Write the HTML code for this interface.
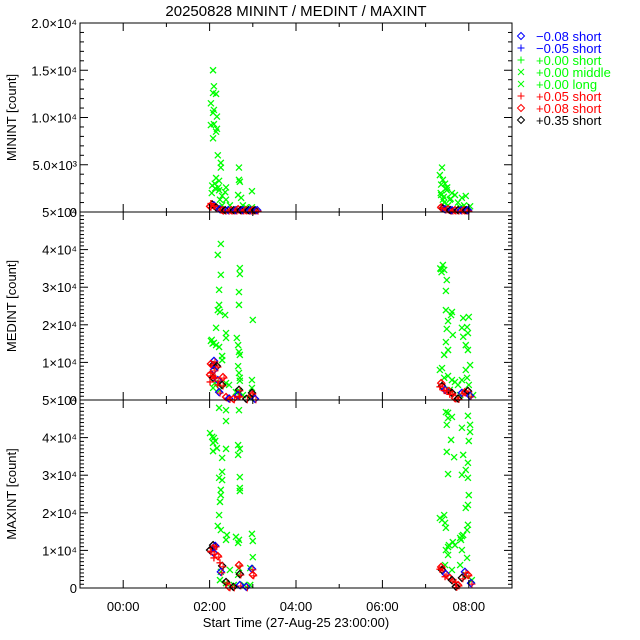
<!DOCTYPE html>
<html><head><meta charset="utf-8"><style>
body{margin:0;background:#fff}
svg{display:block;font-family:"Liberation Sans",sans-serif}
</style></head><body>
<svg id="c" width="640" height="640" viewBox="0 0 640 640"></svg>
<script>
// ---- data (hours since 00:00, counts in thousands) ----
const xTickLabels = ["00:00","02:00","04:00","06:00","08:00"];
const xTickHours = [0,2,4,6,8];
const p1TickLabels = ["0","5.0×10³","1.0×10⁴","1.5×10⁴","2.0×10⁴"];
const p1TickValues = [0,5,10,15,20];
const p23TickLabels = ["0","1×10⁴","2×10⁴","3×10⁴","4×10⁴","5×10⁴"];
const p23TickValues = [0,10,20,30,40,50];
const legendLabels = ["−0.08 short","−0.05 short","+0.00 short","+0.00 middle","+0.00 long","+0.05 short","+0.08 short","+0.35 short"];
const legendColors = ["#0000ff","#0000ff","#00ff00","#00ff00","#00ff00","#ff0000","#ff0000","#000000"];
const legendSymbols = ["d","p","p","x","x","p","d","d"];

const minGreenT = [2.08,2.10,2.08,2.15,2.03,2.10,2.08,2.17,2.03,2.10,2.17,2.15,2.08,2.19,2.26,2.26,2.15,2.22,2.06,2.13,2.38,2.22,2.36,2.29,2.38,2.24,2.68,2.68,2.70,2.66,2.73,2.98,2.98,2.29,2.47,2.77,2.84,7.33,7.38,7.40,7.36,7.45,7.49,7.61,7.68,7.56,7.43,7.84,7.93,7.75,7.52,7.89,8.03,7.80,7.36,7.40,7.47,2.05,2.12,2.20,7.35,7.42,7.50,7.58];
const minGreenV = [15.0,13.3,12.6,12.5,11.5,10.8,10.5,10.1,9.2,9.3,8.8,8.5,7.8,6.0,5.2,4.7,3.6,3.3,2.8,2.5,2.6,2.3,2.1,1.7,1.3,1.3,4.7,3.4,3.2,1.8,1.5,2.2,0.5,0.7,0.7,0.7,0.5,3.9,4.7,3.4,2.9,3.0,2.3,2.0,1.8,1.3,1.0,1.5,1.7,1.0,0.7,0.7,0.6,0.5,1.8,1.3,2.5,2.0,3.0,2.6,2.0,1.6,2.6,1.4];
const minMarkT = [2.06,2.10,2.01,2.15,2.24,2.30,2.36,2.43,2.50,2.56,2.61,2.66,2.72,2.77,2.84,2.90,2.94,3.00,3.05,3.10,7.36,7.40,7.45,7.52,7.57,7.61,7.68,7.75,7.82,7.89,7.94,7.98];
const minMarkV = [0.8,0.7,0.6,0.5,0.3,0.2,0.2,0.2,0.2,0.2,0.2,0.3,0.2,0.2,0.2,0.2,0.2,0.2,0.2,0.2,0.5,0.4,0.3,0.3,0.2,0.2,0.2,0.2,0.2,0.2,0.2,0.2];
const minRedT = [2.03,2.10,7.36];
const minRedV = [0.9,0.6,0.4];

const medGreenT = [2.26,2.19,2.26,2.22,2.22,2.19,2.24,2.36,2.15,2.38,2.38,2.03,2.10,2.15,2.22,2.29,2.29,2.63,2.66,2.68,2.70,2.66,2.68,2.70,2.70,2.68,2.22,2.38,2.08,2.24,2.70,2.70,2.68,2.68,3.00,2.98,2.98,2.45,2.61,2.77,2.94,7.40,7.36,7.43,7.49,7.47,7.47,7.52,7.61,7.59,7.49,7.47,7.63,7.52,7.43,7.33,7.38,7.52,7.61,7.68,7.84,7.87,7.87,7.98,7.96,7.93,8.00,7.98,7.93,7.96,8.03,8.00,7.84,7.43,7.75,7.56,8.10,7.80,2.05,2.07,2.12,7.34,7.37];
const medGreenV = [41.5,38.6,33.3,29.3,25.3,23.9,23.4,22.6,19.2,17.8,16.5,15.7,15.2,14.6,14.1,11.7,10.6,16.5,14.6,12.8,12.0,9.0,7.2,5.9,5.1,2.4,4.3,4.5,3.2,2.7,35.1,33.5,28.7,25.3,21.3,5.3,3.2,4.0,2.1,1.3,0.5,35.9,34.8,34.6,31.9,29.0,23.9,21.0,23.4,22.6,18.9,15.4,17.3,13.3,12.0,8.0,8.5,6.4,5.3,4.8,19.2,21.8,16.8,17.8,19.4,14.6,22.1,13.3,8.0,5.9,9.3,4.0,5.3,5.9,4.0,2.7,1.3,1.3,16.0,15.0,4.5,35.0,34.0];
const medMarkT = [2.08,2.10,2.03,2.17,2.10,2.01,2.08,2.19,2.31,2.29,2.22,2.38,2.68,2.66,2.98,2.98,2.45,2.55,2.85,3.05,7.36,7.38,7.45,7.54,7.61,7.84,7.91,7.98,8.03,7.68,7.75];
const medMarkV = [9.3,10.4,9.6,9.0,8.0,6.7,5.9,5.3,6.1,4.0,2.1,0.8,2.7,1.3,1.3,1.9,0.4,0.3,0.3,0.3,4.5,3.7,2.7,2.4,1.9,1.9,2.1,2.4,1.1,0.5,0.4];
const medRedT = [2.03,2.08,2.01,2.13,2.19,2.70,7.33,7.43,7.56];
const medRedV = [7.2,6.4,4.8,5.9,4.0,0.8,3.5,2.5,1.5];

const maxGreenT = [2.22,2.38,2.68,2.38,2.01,2.06,2.10,2.13,2.08,2.17,2.08,2.29,2.38,2.66,2.70,2.66,2.29,2.22,2.29,2.26,2.26,2.24,2.70,2.70,2.70,2.22,2.19,2.26,2.40,2.38,2.61,2.68,2.66,2.98,3.00,3.00,2.94,2.68,2.26,2.47,2.66,2.24,2.38,2.80,2.94,2.56,7.47,7.52,7.61,7.52,7.49,7.59,7.49,7.66,7.52,7.33,7.38,7.43,7.45,7.47,7.54,7.52,7.63,7.68,7.47,7.52,7.80,7.87,7.96,7.98,7.98,7.93,8.00,7.98,7.84,7.93,7.98,7.87,8.00,8.03,8.03,7.98,7.84,7.84,7.82,7.84,7.96,7.80,7.45,7.61,7.93,8.07];
const maxGreenV = [47.9,47.3,47.3,44.4,41.2,40.2,39.9,39.1,38.6,37.2,36.4,34.6,37.0,38.0,37.0,35.4,30.9,29.3,28.7,26.1,24.7,22.9,29.5,26.6,25.8,19.4,16.5,15.4,14.1,12.8,13.6,12.8,12.0,14.4,12.5,8.2,5.3,5.3,4.3,4.8,3.5,2.1,1.3,0.8,0.8,0.8,46.8,46.6,45.5,45.2,43.4,39.4,36.2,34.8,30.3,18.6,18.1,19.4,17.3,16.0,11.4,10.9,12.2,11.4,10.1,8.8,13.3,14.1,15.4,16.8,22.1,21.3,24.7,29.3,30.1,31.4,33.3,35.4,39.1,41.5,43.4,45.8,42.6,13.8,12.8,10.1,8.0,6.1,6.1,4.8,3.5,2.1];
const maxMarkT = [2.08,2.13,2.08,2.01,2.10,2.19,2.29,2.26,2.68,2.70,2.98,3.00,2.38,2.70,2.45,2.55,2.85,7.36,7.38,7.47,7.56,7.61,7.91,7.98,7.84,8.05,7.75,7.70];
const maxMarkV = [11.4,11.2,10.6,10.1,9.3,8.5,5.9,4.3,6.1,3.7,5.1,3.5,1.6,0.8,0.3,0.3,0.3,5.6,4.8,3.7,2.7,2.1,4.3,3.5,2.7,1.3,0.8,0.4];
const maxRedT = [2.03,2.10,2.24,7.33,7.45,7.70];
const maxRedV = [9.6,8.0,6.7,5.0,3.0,1.5];

// ---- layout ----
const NS="http://www.w3.org/2000/svg";
const svg=document.getElementById('c');
const X0=80,X1=512,TMIN=-1,TMAX=9;
const xs=t=>X0+(t-TMIN)/(TMAX-TMIN)*(X1-X0);
const panels=[
 {top:23,bot:212,max:20,labels:p1TickLabels,vals:p1TickValues,title:"MININT [count]",g:[minGreenT,minGreenV],m:[minMarkT,minMarkV],r:[minRedT,minRedV],name:"minint-panel"},
 {top:212,bot:400,max:50,labels:p23TickLabels,vals:p23TickValues,title:"MEDINT [count]",g:[medGreenT,medGreenV],m:[medMarkT,medMarkV],r:[medRedT,medRedV],name:"medint-panel"},
 {top:400,bot:588,max:50,labels:p23TickLabels,vals:p23TickValues,title:"MAXINT [count]",g:[maxGreenT,maxGreenV],m:[maxMarkT,maxMarkV],r:[maxRedT,maxRedV],name:"maxint-panel"}
];
function el(tag,attrs,parent){const e=document.createElementNS(NS,tag);for(const k in attrs)e.setAttribute(k,attrs[k]);(parent||svg).appendChild(e);return e;}
function line(x1,y1,x2,y2,p,c,w){return el('line',{x1,y1,x2,y2,stroke:c||'#000','stroke-width':w||1},p);}
function txt(s,x,y,anchor,size,p,fill){const t=el('text',{x,y,'text-anchor':anchor,'font-size':size,fill:fill||'#000'},p);t.textContent=s;return t;}
function mark(type,x,y,c,p,w){
  w=w||1.3;
  if(type==='x'){const g=el('g',{},p);line(x-3,y-3,x+3,y+3,g,c,w);line(x-3,y+3,x+3,y-3,g,c,w);return g;}
  if(type==='p'){const g=el('g',{},p);line(x-3.5,y,x+3.5,y,g,c,w);line(x,y-3.5,x,y+3.5,g,c,w);return g;}
  return el('polygon',{points:`${x},${y-3.5} ${x+3.5},${y} ${x},${y+3.5} ${x-3.5},${y}`,fill:'none',stroke:c,'stroke-width':w},p);
}

const title=txt("20250828 MININT / MEDINT / MAXINT",296,16,'middle',15);



const dcols=["#000000","#0000ff","#ff0000"];
panels.forEach((P,pi)=>{
  const g=el('g',{});
  
  
  const ys=v=>P.bot-v/P.max*(P.bot-P.top);
  const gg=el('g',{},g);
  
  
  P.g[0].forEach((t,i)=>mark('x',xs(t),ys(P.g[1][i]),'#00ff00',gg));
  const mg=el('g',{},g);
  
  
  P.m[0].forEach((t,i)=>{const x=xs(t),y=ys(P.m[1][i]);mark('d',x,y,dcols[i%3],mg);mark('p',x+1,y+1,'#ff0000',mg,1);});
  const rg=el('g',{},g);
  
  
  P.r[0].forEach((t,i)=>mark('p',xs(t),ys(P.r[1][i]),'#ff0000',rg));
  el('rect',{x:X0,y:P.top,width:X1-X0,height:P.bot-P.top,fill:'none',stroke:'#000','stroke-width':1},g);
  for(let h=-1;h<=9;h++){const x=xs(h);const L=(h%2===0)?8:4;line(x,P.bot,x,P.bot-L,g);line(x,P.top,x,P.top+L,g);}
  for(let v=0;v<=P.max;v+=1){const y=ys(v);const maj=P.vals.includes(v);const L=maj?8:4;line(X0,y,X0+L,y,g);line(X1,y,X1-L,y,g);}
  const yl=el('g',{},g);
  
  
  P.vals.forEach((v,i)=>txt(P.labels[i],77,ys(v)+5,'end',13,yl));
  const yt=txt(P.title,0,0,'middle',13,g);
  yt.setAttribute('transform',`translate(16,${(P.top+P.bot)/2}) rotate(-90)`);
  
  
});

const xl=el('g',{});


xTickHours.forEach((h,i)=>txt(xTickLabels[i],xs(h),611,'middle',13,xl));
const xt=txt("Start Time (27-Aug-25 23:00:00)",296,627,'middle',13);



const lg=el('g',{});


legendLabels.forEach((s,i)=>{
  const y=36+i*12;
  const e=el('g',{},lg);
  
  
  mark(legendSymbols[i],521,y,legendColors[i],e,1);
  txt(s,536,y+5,'start',13,e,legendColors[i]);
});
</script>
</body></html>
